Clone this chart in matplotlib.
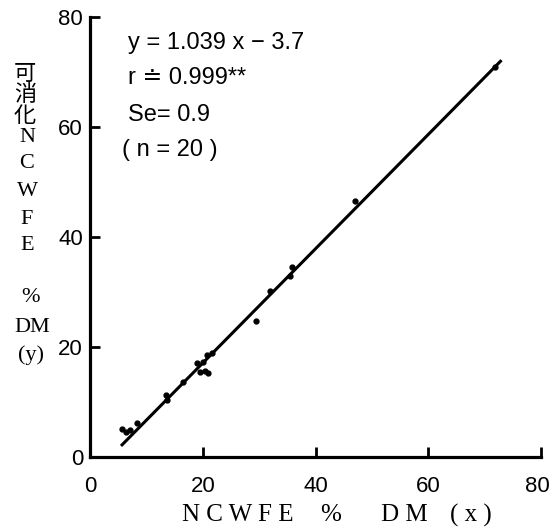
import matplotlib.pyplot as plt
import matplotlib.transforms as mtransforms
import numpy as np

# digestible NCWFE vs NCWFE (% DM)
ncwfe_x = [5.6, 6.3, 7.1, 8.3, 13.6, 13.5, 16.5, 18.9, 19.5, 20.0, 20.4, 21.0, 20.7, 21.6,
           29.5, 31.9, 35.5, 35.9, 47.0, 71.8]
dig_y = [5.1, 4.6, 4.9, 6.2, 10.4, 11.3, 13.7, 17.1, 15.4, 17.3, 15.6, 15.3, 18.5, 18.9,
         24.7, 30.2, 32.9, 34.6, 46.5, 70.9]
slope, intercept = 1.039, -3.7
line_x = [5.5, 73.0]

ylabel_lines = ["可", "消", "化", "N", "C", "W", "F", "E", "%", "DM", "(y)"]
ylabel_ypix = [75, 96, 117, 137, 164, 191, 219, 246, 298, 327, 355]
ylabel_xpix = [25, 25, 25, 27, 27, 27, 27, 27, 31, 32, 31]

xlabel_parts = ["N C W F E", "%", "D M", "( x )"]
xlabel_xpix = [238, 331, 404, 471]

W, H = 552, 530
fig = plt.figure(figsize=(W / 100, H / 100), dpi=100)
ax = fig.add_axes([90 / W, 1 - 457 / H, 451 / W, 440 / H])

ax.plot(ncwfe_x, dig_y, "o", color="black", markersize=3.5)
lx = np.array(line_x)
ax.plot(lx, slope * lx + intercept, color="black", lw=2.2, solid_capstyle="butt")

ax.set_xlim(0, 80)
ax.set_ylim(0, 80)
ax.set_xticks([0, 20, 40, 60, 80])
ax.set_yticks([0, 20, 40, 60, 80])
for s in ["top", "right"]:
    ax.spines[s].set_visible(False)
for s in ["left", "bottom"]:
    ax.spines[s].set_linewidth(2.3)
ax.tick_params(direction="in", length=7, width=2, labelsize=16)
ax.tick_params(axis="x", pad=14)
ax.tick_params(axis="y", pad=5)
for lab in ax.get_xticklabels() + ax.get_yticklabels():
    lab.set_family(["Liberation Sans", "DejaVu Sans"])
# keep the last x tick label inside the figure
last = ax.get_xticklabels()[-1]
last.set_transform(last.get_transform() + mtransforms.ScaledTranslation(-4 / 100, 0, fig.dpi_scale_trans))

eq_font = dict(fontsize=17, family=["Liberation Sans", "DejaVu Sans"], va="center")
fig.text(128 / W, 1 - 43 / H, "y = 1.039 x − 3.7", **eq_font)
fig.text(128 / W, 1 - 78 / H, "r ≐ 0.999**", **eq_font)
fig.text(128 / W, 1 - 115 / H, "Se= 0.9", **eq_font)
fig.text(122 / W, 1 - 150 / H, "( n = 20 )", **eq_font)

for t, xp, yp in zip(ylabel_lines, ylabel_xpix, ylabel_ypix):
    fig.text(xp / W, 1 - yp / H, t, ha="center", va="center", fontsize=16,
             family=["Liberation Serif", "Noto Sans CJK JP", "DejaVu Sans"])

for t, xp in zip(xlabel_parts, xlabel_xpix):
    fig.text(xp / W, 1 - 515 / H, t, ha="center", va="center",
             fontsize=18, family=["Liberation Serif", "DejaVu Serif"])

fig.savefig("out.png", dpi=100)
